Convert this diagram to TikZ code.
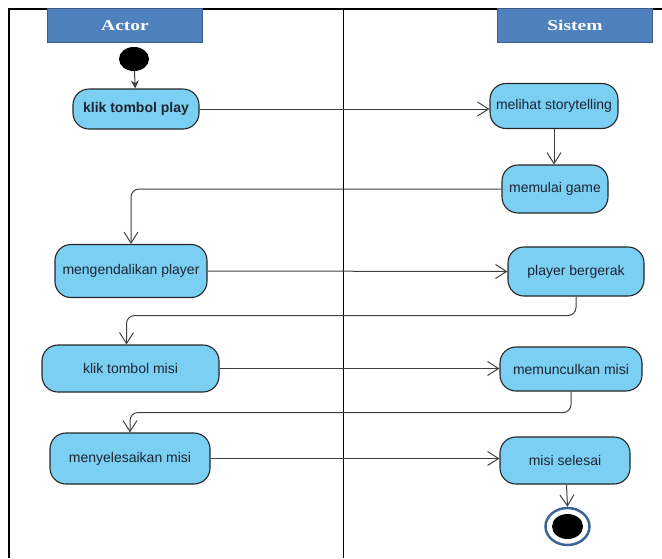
\documentclass[tikz,border=0pt]{standalone}
\usepackage{fontspec}
\setmainfont{Liberation Sans}
\newfontfamily\judul{Liberation Serif}[FakeStretch=1.3]
\usetikzlibrary{arrows.meta,positioning,calc}
\usetikzlibrary{shapes.geometric}
\definecolor{isi}{RGB}{122,207,243}
\definecolor{kepala}{RGB}{79,129,189}
\definecolor{tepikepala}{RGB}{56,93,138}
\definecolor{garis}{RGB}{64,64,64}
\definecolor{cincin}{RGB}{60,100,150}
\definecolor{tulisan}{RGB}{28,36,50}

\begin{document}
\begin{tikzpicture}[x=1pt,y=-1pt,
    aksi/.style={draw=black!85,fill=isi,rounded corners=16pt,line width=1.1pt,inner sep=2pt,text=tulisan,font=\fontsize{14}{16}\selectfont},
    kolom/.style={draw=tepikepala,fill=kepala,line width=1.2pt,minimum width=155pt,minimum height=34pt,text=white,font=\judul\bfseries\fontsize{15}{17}\selectfont},
    alur/.style={draw=garis,line width=1pt,rounded corners=8pt,-{Straight Barb[length=11pt,width=14pt]}}]
    \useasboundingbox (0,0) rectangle (662,558);
    \draw[line width=2.2pt] (9,558) -- (9,9) -- (662,9);
    \draw[line width=0.8pt] (343,9) -- (343,558);
    \node[kolom](actor) at (125,25.5){Actor};
    \node[kolom](sistem) at (575,25.5){Sistem};
    \node[ellipse,fill=black,minimum width=30pt,minimum height=24pt,inner sep=0pt](mulai) at (134,59){};
    \node[aksi,minimum width=126pt,minimum height=40pt,font=\fontsize{14}{16}\selectfont\bfseries](play) at (136,109){klik tombol play};
    \node[aksi,minimum width=128pt,minimum height=45pt](melihat) at (554,106){melihat storytelling};
    \node[aksi,minimum width=106pt,minimum height=48pt](memulai) at (555,189){memulai game};
    \node[aksi,minimum width=152pt,minimum height=53pt](kendali) at (131,271){mengendalikan player};
    \node[aksi,minimum width=136pt,minimum height=49pt](gerak) at (576,271.5){player bergerak};
    \node[aksi,minimum width=177pt,minimum height=47pt](klikmisi) at (130.5,368.5){klik tombol misi};
    \node[aksi,minimum width=142pt,minimum height=44pt](muncul) at (571,369){memunculkan misi};
    \node[aksi,minimum width=160pt,minimum height=51pt](selesaikan) at (130,458.5){menyelesaikan misi};
    \node[aksi,minimum width=130pt,minimum height=47pt](selesai) at (565,460.5){misi selesai};
    \node[ellipse,draw=cincin,line width=2.5pt,fill=white,minimum width=44pt,minimum height=37pt,inner sep=0pt](akhir) at (567.5,526.5){};
    \node[ellipse,fill=black,minimum width=31pt,minimum height=25pt,inner sep=0pt] at (akhir){};
    \draw[draw=garis,line width=1pt,-{Stealth[length=8pt,width=8pt]}](mulai)--(play);
    \draw[alur](play.east)--(melihat.west |- play.east);
    \draw[alur](melihat.south)--(melihat.south |- memulai.north);
    \draw[alur](memulai.west)-|(kendali.north);
    \draw[alur](kendali.east)--(gerak.west);
    \draw[alur](gerak.south)--++(0,19)-|([xshift=-4pt]klikmisi.north);
    \draw[alur](klikmisi.east)--(muncul.west |- klikmisi.east);
    \draw[alur](muncul.south)--++(0,21)-|(selesaikan.north);
    \draw[alur](selesaikan.east)--(selesai.west |- selesaikan.east);
    \draw[alur]([xshift=1.5pt]selesai.south)--(akhir.north);
\end{tikzpicture}
\end{document}
